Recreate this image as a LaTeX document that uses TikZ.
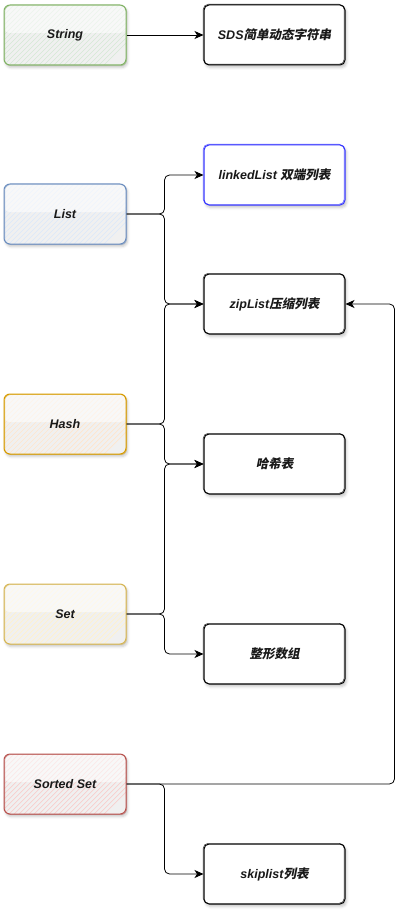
\documentclass[tikz,border=0pt]{standalone}
\usepackage{fontspec}
\setmainfont{Liberation Sans}
\newfontfamily\cjk[FakeSlant=0.2]{Noto Sans CJK SC Bold}
\usetikzlibrary{arrows.meta,shadows.blur}

\definecolor{strGreen}{HTML}{82B366}\definecolor{strGreenF}{HTML}{D5E8D4}
\definecolor{lstBlue}{HTML}{6C8EBF}\definecolor{lstBlueF}{HTML}{DAE8FC}
\definecolor{hshOrange}{HTML}{D79B00}\definecolor{hshOrangeF}{HTML}{FFE6CC}
\definecolor{setYellow}{HTML}{D6B656}\definecolor{setYellowF}{HTML}{FFF2CC}
\definecolor{zsRed}{HTML}{B85450}\definecolor{zsRedF}{HTML}{F8CECC}
\definecolor{pureBlue}{HTML}{3333FF}

\tikzset{
  lbl/.style={font=\fontsize{12.5}{14}\selectfont\bfseries\itshape, text=black!90},
  softshadow/.style={blur shadow={shadow xshift=1.5pt, shadow yshift=-2.5pt,
      shadow blur radius=2.5pt, shadow opacity=22}},
  % glassy, hatched box for the Redis data types
  typebox/.style 2 args={lbl, rectangle, rounded corners=6pt, draw=#1,
    line width=1pt, minimum width=122pt, minimum height=60pt, inner sep=0pt,
    fill=black!6, softshadow,
    path picture={
      \foreach \k in {0,...,34}
        \draw[#2, line width=0.7pt]
          ([xshift=\k*5pt-70pt]path picture bounding box.south west) -- ++(75pt,75pt);
      \fill[white, opacity=0.55]
        (path picture bounding box.north west) rectangle
        ([yshift=2pt]path picture bounding box.east);
    },
    postaction={draw=#1, line width=0.6pt, opacity=0.6,
      transform canvas={xshift=0.7pt, yshift=-0.6pt}}},
  % hand-drawn looking box for the encodings
  encbox/.style={lbl, rectangle, rounded corners=5pt, draw=#1, line width=1pt,
    minimum width=141pt, minimum height=60pt, inner sep=0pt, fill=white,
    softshadow,
    postaction={draw=#1, line width=0.6pt, opacity=0.7,
      transform canvas={xshift=-0.8pt, yshift=0.7pt}}},
  encbox/.default=black,
  conn/.style={draw=black, line width=0.8pt, rounded corners=5pt,
    -{Stealth[length=9pt, width=8pt, inset=2.5pt]}}
}

\begin{document}
\begin{tikzpicture}[x=1pt, y=-1pt]
  \useasboundingbox (0,0) rectangle (403,912);

  % data types
  \node[typebox={strGreen}{strGreenF}]  (string) at (65,35)  {String};
  \node[typebox={lstBlue}{lstBlueF}]    (list)   at (65,214) {List};
  \node[typebox={hshOrange}{hshOrangeF}] (hash)  at (65,424) {Hash};
  \node[typebox={setYellow}{setYellowF}] (set)   at (65,614) {Set};
  \node[typebox={zsRed}{zsRedF}]        (zset)   at (65,784) {Sorted Set};

  % underlying encodings
  \node[encbox]           (sds)    at (274.5,35)  {SDS{\cjk 简单动态字符串}};
  \node[encbox=pureBlue]  (linked) at (274.5,175) {linkedList {\cjk 双端列表}};
  \node[encbox]           (zip)    at (274.5,304) {zipList{\cjk 压缩列表}};
  \node[encbox]           (dict)   at (274.5,464) {\cjk 哈希表};
  \node[encbox]           (intset) at (274.5,654) {\cjk 整形数组};
  \node[encbox]           (skip)   at (274.5,874) {skiplist{\cjk 列表}};

  % type -> encoding
  \draw[conn] (string.east) -- (sds.west);
  \draw[conn] (list.east) -- ++(38,0) |- (linked.west);
  \draw[conn] (list.east) -- ++(38,0) |- (zip.west);
  \draw[conn] (hash.east) -- ++(38,0) |- (zip.west);
  \draw[conn] (hash.east) -- ++(38,0) |- (dict.west);
  \draw[conn] (set.east)  -- ++(38,0) |- (dict.west);
  \draw[conn] (set.east)  -- ++(38,0) |- (intset.west);
  \draw[conn] (zset.east) -- ++(268,0) |- (zip.east);
  \draw[conn] (zset.east) -- ++(38,0) |- (skip.west);
\end{tikzpicture}
\end{document}
